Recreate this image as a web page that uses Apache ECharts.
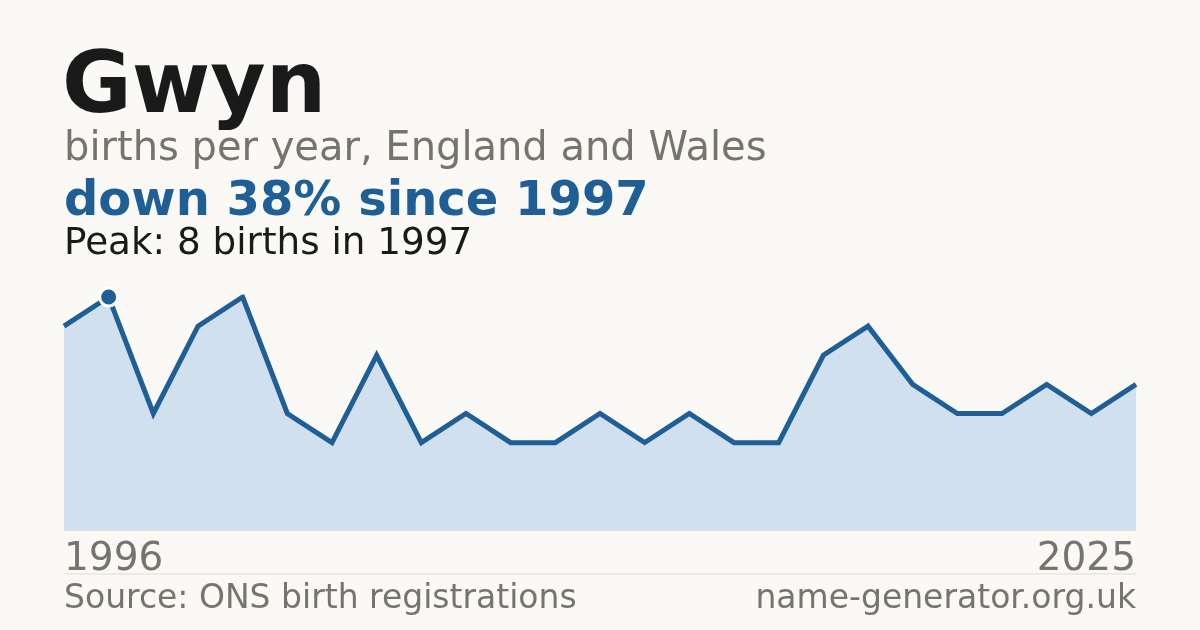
<!DOCTYPE html>
<html>
<head>
<meta charset="utf-8">
<script src="https://cdn.jsdelivr.net/npm/echarts@6/dist/echarts.min.js"></script>
<style>
html,body{margin:0;padding:0;background:#faf9f5;}
#chart{width:1200px;height:630px;}
</style>
</head>
<body>
<div id="chart"></div>
<script>
// Years with registered births (years below the ONS threshold are absent)
const years = ['1996','1997','1998','1999','2000','2001','2002','2003','2004','2006','2007','2009','2010','2012','2013','2015','2017','2018','2019','2020','2021','2022','2023','2024','2025'];
const births = [7, 8, 4, 7, 8, 4, 3, 6, 3, 4, 3, 3, 4, 3, 4, 3, 3, 6, 7, 5, 4, 4, 5, 4, 5];
const axisLabels = ['1996', '2025'];

const titleText = 'Gwyn';
const subtitleText = 'births per year, England and Wales';
const changeText = 'down 38% since 1997';
const peakText = 'Peak: 8 births in 1997';
const sourceText = 'Source: ONS birth registrations';
const siteText = 'name-generator.org.uk';

const peakValue = Math.max(...births);
const peakIndex = births.indexOf(peakValue);

const FONT = '"DejaVu Sans", sans-serif';
const BLUE = '#1f5f96';
const GRAY = '#78736c';

const chart = echarts.init(document.getElementById('chart'), null, {renderer: 'canvas'});

function txt(text, x, yMid, size, color, weight, align) {
  return {
    type: 'text', x: x, y: yMid, silent: true,
    style: {
      text: text, fill: color, font: (weight || 'normal') + ' ' + size + 'px ' + FONT,
      textAlign: align || 'left', textVerticalAlign: 'middle'
    }
  };
}

chart.setOption({
  backgroundColor: '#faf9f5',
  animation: false,
  grid: {left: 64, right: 64, top: 297, bottom: 100, containLabel: false},
  xAxis: {
    type: 'category',
    data: years,
    boundaryGap: false,
    axisLine: {show: true, lineStyle: {color: '#e2dfd8', width: 1}},
    axisTick: {show: false},
    splitLine: {show: false},
    axisLabel: {
      interval: function (i) { return i === 0 || i === years.length - 1; },
      formatter: function (v, i) { return i === 0 ? axisLabels[0] : axisLabels[1]; },
      color: GRAY, fontFamily: FONT, fontSize: 39, margin: 10,
      alignMinLabel: 'left', alignMaxLabel: 'right'
    }
  },
  yAxis: {
    type: 'value', min: 0, max: peakValue, show: false,
    splitLine: {show: false}
  },
  series: [
    {
      type: 'line',
      data: births,
      showSymbol: false,
      lineStyle: {color: BLUE, width: 5, join: 'miter'},
      areaStyle: {color: '#d0e0ef', opacity: 1},
      z: 2
    },
    {
      type: 'scatter',
      data: [[peakIndex, peakValue]],
      symbol: 'circle',
      symbolSize: 18,
      itemStyle: {color: BLUE, borderColor: '#ffffff', borderWidth: 3, opacity: 1},
      z: 3
    }
  ],
  graphic: [
    txt(titleText, 62, 90, 85, '#1a1a1a', 'bold'),
    txt(subtitleText, 64, 150, 40, GRAY),
    txt(changeText, 64, 203, 48, BLUE, 'bold'),
    txt(peakText, 64, 244, 37.3, '#1a1a1a'),
    {
      type: 'line', silent: true,
      shape: {x1: 64, y1: 574, x2: 1136, y2: 574},
      style: {stroke: '#dedbd4', lineWidth: 1}
    },
    txt(sourceText, 64, 599, 33, GRAY),
    txt(siteText, 1136, 599, 33, GRAY, 'normal', 'right')
  ]
});
</script>
</body>
</html>
